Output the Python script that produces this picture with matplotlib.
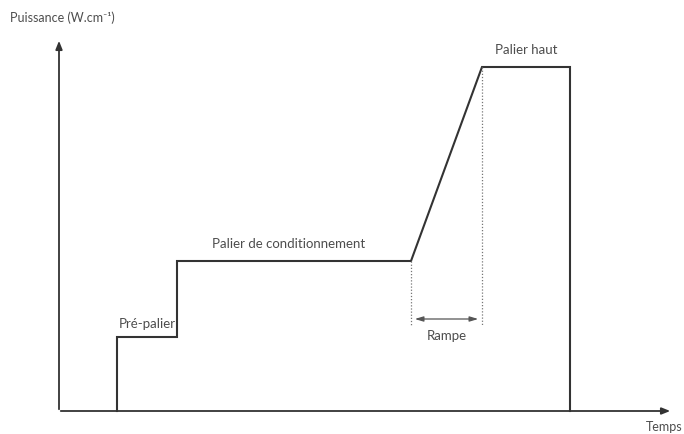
import matplotlib.pyplot as plt

# Power profile: time breakpoints and power levels (arbitrary units)
temps = [58, 58, 118, 118, 352, 423, 511, 511]
puissance = [0, 74, 74, 150, 150, 344, 344, 0]

# ramp limits (start / end of the ramp)
rampe_debut = 352
rampe_fin = 423

TXT = "#4d4d4d"
LINE = "#333333"
plt.rcParams['font.family'] = ['Lato', 'DejaVu Sans']

fig = plt.figure(figsize=(6.84, 4.35), dpi=100)
ax = fig.add_axes([0, 0, 1, 1])
ax.set_xlim(-59, 625)
ax.set_ylim(-23, 412)
ax.axis("off")

# axes drawn as arrows
ax.annotate("", xy=(614, 0), xytext=(-1, 0),
            arrowprops=dict(arrowstyle="-|>,head_length=0.5,head_width=0.2", color=LINE, lw=1.3))
ax.annotate("", xy=(0, 373), xytext=(0, -1),
            arrowprops=dict(arrowstyle="-|>,head_length=0.5,head_width=0.2", color=LINE, lw=1.3))

ax.plot(temps, puissance, color=LINE, lw=1.5, solid_joinstyle="miter")

# dotted guides at the ramp limits
ax.plot([rampe_debut, rampe_debut], [150, 86], color="#777777", lw=0.9, ls=(0, (1, 1.5)))
ax.plot([rampe_fin, rampe_fin], [344, 86], color="#777777", lw=0.9, ls=(0, (1, 1.5)))
ax.annotate("", xy=(rampe_fin - 1, 92), xytext=(rampe_debut + 1, 92),
            arrowprops=dict(arrowstyle="<|-|>,head_length=0.5,head_width=0.15", color="#555555", lw=0.9))

ax.text(rampe_debut + (rampe_fin - rampe_debut) / 2, 76, "Rampe", color=TXT, fontsize=9.5, ha="center", va="center")
ax.text(88, 88, "Pré-palier", color=TXT, fontsize=9.5, ha="center", va="center")
ax.text(230, 168, "Palier de conditionnement", color=TXT, fontsize=9.5, ha="center", va="center")
ax.text(467, 362, "Palier haut", color=TXT, fontsize=9.5, ha="center", va="center")
ax.text(-49, 394, "Puissance (W.cm⁻¹)", color=TXT, fontsize=9, ha="left", va="center")
ax.text(623, -15, "Temps", color=TXT, fontsize=9, ha="right", va="center")

fig.savefig("out.png", dpi=100, facecolor="white")
